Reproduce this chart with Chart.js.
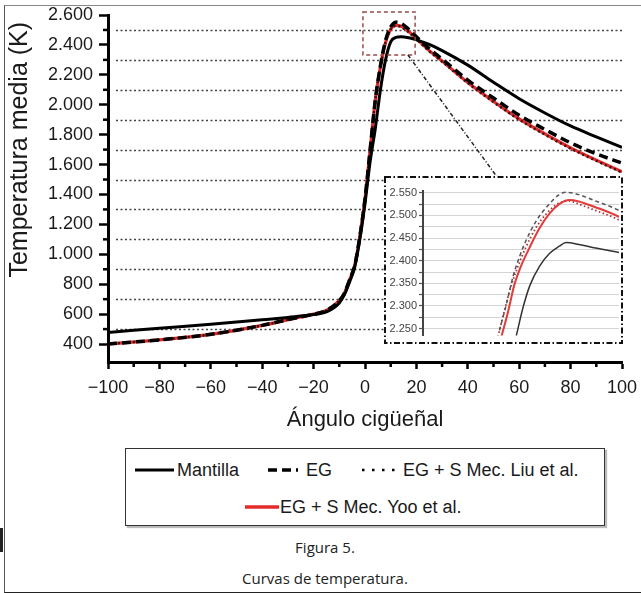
<!DOCTYPE html>
<html>
<head>
<meta charset="utf-8">
<script src="https://cdn.jsdelivr.net/npm/chart.js@4.4.1/dist/chart.umd.min.js"></script>
<style>
  html, body { margin: 0; padding: 0; background: #fff; }
  body { width: 641px; height: 593px; position: relative; overflow: hidden; font-family: "Liberation Sans", Arial, sans-serif; }
  #frame { position: absolute; left: 4px; top: 5px; width: 700px; height: 586px; border-left: 1.5px solid #555; border-top: 1.5px solid #888; border-bottom: 1.5px solid #222; }
  #edge { position: absolute; left: 0; top: 528px; width: 3px; height: 24px; background: #222; }
  #main { position: absolute; left: 0; top: 0; }
  #insetWrap { position: absolute; left: 384px; top: 176px; width: 239px; height: 168px; background: #fff; }
  #legend { position: absolute; left: 125px; top: 448px; width: 478px; height: 76px; border: 1.5px solid #333; box-shadow: 2px 2px 1px #bbb; }
  .item { position: absolute; font-size: 18px; line-height: 20px; color: #1a1a1a; white-space: nowrap; }
  .sample { position: absolute; }
  .cap { position: absolute; left: 0; width: 650px; text-align: center; font-family: "Open Sans", sans-serif; font-size: 15px; color: #222; }
</style>
</head>
<body>
<div id="frame"></div>
<div id="edge"></div>
<canvas id="main" width="641" height="440"></canvas>
<div id="insetWrap"><canvas id="inset" width="239" height="168"></canvas></div>

<div id="legend"></div>
<svg class="sample" style="left:135px;top:465px" width="40" height="10"><line x1="0" y1="5" x2="39" y2="5" stroke="#000" stroke-width="3"/></svg>
<div class="item" style="left:177px;top:460px">Mantilla</div>
<svg class="sample" style="left:268px;top:465px" width="32" height="10"><line x1="0" y1="5" x2="30" y2="5" stroke="#000" stroke-width="3.5" stroke-dasharray="9 5"/></svg>
<div class="item" style="left:306px;top:460px">EG</div>
<svg class="sample" style="left:362px;top:465px" width="40" height="10"><line x1="0" y1="5" x2="39" y2="5" stroke="#000" stroke-width="2.5" stroke-dasharray="2.5 7.5"/></svg>
<div class="item" style="left:403px;top:460px">EG + S Mec. Liu et al.</div>
<svg class="sample" style="left:245px;top:502px" width="34" height="10"><line x1="0" y1="5" x2="34" y2="5" stroke="#e32b2b" stroke-width="3.5"/></svg>
<div class="item" style="left:280px;top:497px">EG + S Mec. Yoo et al.</div>

<div class="cap" style="top:537px">Figura 5.</div>
<div class="cap" style="top:568px">Curvas de temperatura.</div>

<script>
// --- main chart data (crank angle in degrees, mean temperature in K) ---
const angles   = [-100, -80, -60, -40, -30, -20, -15, -10, -8, -6, -4, -2, 0, 2, 4, 6, 8, 10, 12, 14, 17, 20, 25, 30, 40, 50, 60, 70, 80, 90, 100];
const mantilla = [478, 505, 532, 562, 578, 597, 615, 675, 730, 815, 915, 1100, 1340, 1620, 1840, 2100, 2300, 2420, 2450, 2455, 2448, 2434, 2403, 2362, 2265, 2150, 2040, 1945, 1858, 1785, 1715];
const eg       = [400, 428, 465, 525, 563, 600, 625, 690, 740, 830, 925, 1120, 1370, 1700, 2030, 2260, 2430, 2520, 2552, 2545, 2505, 2455, 2375, 2305, 2165, 2045, 1930, 1835, 1745, 1672, 1610];
const liu      = [400, 428, 465, 525, 563, 600, 625, 690, 740, 830, 925, 1120, 1370, 1700, 2030, 2255, 2420, 2505, 2528, 2520, 2485, 2438, 2358, 2288, 2145, 2018, 1900, 1800, 1707, 1625, 1547];
const yoo      = [400, 428, 465, 525, 563, 600, 625, 690, 740, 830, 925, 1120, 1370, 1700, 2030, 2255, 2415, 2505, 2530, 2525, 2490, 2443, 2362, 2292, 2148, 2022, 1905, 1805, 1712, 1630, 1552];

// --- inset (zoom on the peak), x in inset units ---
const insetEgX  = [7.8, 8.5, 9.2, 9.85, 10.5, 11.5, 12.6, 13.9, 14.6, 15.9, 17.6, 19.3, 20];
const insetEgT  = [2246, 2303, 2366, 2409, 2444, 2486, 2518, 2546, 2551, 2546, 2532, 2518, 2511];
const insetYooX = [8.0, 8.7, 9.3, 10.0, 10.9, 11.9, 12.9, 13.9, 14.9, 15.9, 17.6, 19.3, 20];
const insetYooT = [2232, 2289, 2345, 2388, 2430, 2472, 2504, 2525, 2534, 2531, 2518, 2504, 2497];
const insetLiuX = [7.65, 8.3, 9.0, 9.7, 10.5, 11.5, 12.6, 13.7, 14.9, 15.9, 17.6, 19.3, 20];
const insetLiuT = [2232, 2289, 2345, 2388, 2430, 2472, 2504, 2525, 2532, 2525, 2511, 2497, 2490];
const insetManX = [9.5, 10.2, 10.9, 11.9, 12.9, 13.9, 14.6, 15.9, 17.6, 20];
const insetManT = [2232, 2296, 2345, 2388, 2416, 2432, 2440, 2436, 2428, 2418];

// zoom box around the peak and the leader line to the inset (data units)
const zoomBox = { x0: -0.8, x1: 19.5, y0: 2333, y1: 2620 };
const leader  = { x0: 16.7, y0: 2333, x1: 51.4, y1: 1517 };

const FONT = "'Liberation Sans', Arial, sans-serif";
Chart.defaults.font.family = FONT;

const pts = (xs, ys) => xs.map((x, i) => ({ x: x, y: ys[i] }));
const fmt = v => v >= 1000 ? Math.floor(v / 1000) + '.' + String(v % 1000).padStart(3, '0') : String(v);

// dotted grid between major ticks, short minor ticks, zoom box + leader
const extras = {
    id: 'extras',
    beforeDatasetsDraw(chart) {
        const { ctx, chartArea: a, scales: { y } } = chart;
        const t = y.ticks.map(k => k.value);
        ctx.save();
        ctx.strokeStyle = '#444';
        ctx.lineWidth = 1.5;
        ctx.setLineDash([2, 2.5]);
        for (let i = 0; i < t.length - 1; i++) {
            const py = Math.round(y.getPixelForValue((t[i] + t[i + 1]) / 2)) + 0.5;
            ctx.beginPath();
            ctx.moveTo(a.left + 8, py);
            ctx.lineTo(a.right, py);
            ctx.stroke();
        }
        ctx.restore();
    },
    afterDatasetsDraw(chart) {
        const { ctx, scales: { x, y } } = chart;
        ctx.save();
        // box
        ctx.strokeStyle = '#9a4a4a';
        ctx.lineWidth = 1.5;
        ctx.setLineDash([4, 3]);
        const bx = x.getPixelForValue(zoomBox.x0), by = y.getPixelForValue(zoomBox.y1);
        ctx.strokeRect(bx, by, x.getPixelForValue(zoomBox.x1) - bx, y.getPixelForValue(zoomBox.y0) - by);
        // leader
        ctx.strokeStyle = '#222';
        ctx.setLineDash([4, 2, 1, 2]);
        ctx.beginPath();
        ctx.moveTo(x.getPixelForValue(leader.x0), y.getPixelForValue(leader.y0));
        ctx.lineTo(x.getPixelForValue(leader.x1), y.getPixelForValue(leader.y1));
        ctx.stroke();
        ctx.restore();
    },
    afterDraw(chart) {
        const { ctx, chartArea: a, scales: { x, y } } = chart;
        ctx.save();
        ctx.strokeStyle = '#000';
        ctx.lineWidth = 2.5;
        const xt = x.ticks.map(k => k.value);
        for (let i = 0; i < xt.length - 1; i++) {
            const px = x.getPixelForValue((xt[i] + xt[i + 1]) / 2);
            ctx.beginPath();
            ctx.moveTo(px, a.bottom);
            ctx.lineTo(px, a.bottom + 5);
            ctx.stroke();
        }
        const yt = y.ticks.map(k => k.value);
        for (let i = 0; i < yt.length - 1; i++) {
            const py = y.getPixelForValue((yt[i] + yt[i + 1]) / 2);
            ctx.beginPath();
            ctx.moveTo(a.left, py);
            ctx.lineTo(a.left - 5, py);
            ctx.stroke();
        }
        ctx.restore();
    }
};

new Chart(document.getElementById('main'), {
    type: 'line',
    data: {
        datasets: [
            { label: 'Mantilla', data: pts(angles, mantilla), borderColor: '#000', borderWidth: 3 },
            { label: 'EG', data: pts(angles, eg), borderColor: '#000', borderWidth: 3.5, borderDash: [9, 5] },
            { label: 'EG + S Mec. Liu et al.', data: pts(angles, liu), borderColor: '#3a1010', borderWidth: 2.5, borderDash: [2, 3] },
            { label: 'EG + S Mec. Yoo et al.', data: pts(angles, yoo), borderColor: '#e32b2b', borderWidth: 3.2 }
        ]
    },
    options: {
        responsive: false,
        animation: false,
        layout: { padding: { top: 15, right: 19, left: 0, bottom: 0 } },
        elements: {
            point: { radius: 0 },
            line: { cubicInterpolationMode: 'monotone', fill: false }
        },
        plugins: { legend: { display: false }, tooltip: { enabled: false } },
        scales: {
            x: {
                type: 'linear', min: -100, max: 100,
                afterFit: s => { s.height = 78; s.paddingLeft = 0; s.paddingRight = 0; },
                border: { color: '#000', width: 3 },
                grid: { drawOnChartArea: false, tickLength: 7, tickWidth: 2.5, tickColor: '#000' },
                ticks: {
                    stepSize: 20, autoSkip: false, maxRotation: 0, padding: 8,
                    color: '#1a1a1a', font: { size: 18 },
                    callback: v => v < 0 ? '\u2212' + Math.abs(v) : String(v)
                },
                title: {
                    display: true, text: 'Ángulo cigüeñal', color: '#1a1a1a',
                    font: { size: 22 }, padding: { top: 0, bottom: 7 }
                }
            },
            y: {
                min: 280, max: 2600,
                afterFit: s => { s.width = 108; s.paddingTop = 0; s.paddingBottom = 0; },
                border: { color: '#000', width: 3 },
                grid: { drawOnChartArea: false, tickLength: 9, tickWidth: 2.5, tickColor: '#000' },
                ticks: {
                    stepSize: 200, includeBounds: false, autoSkip: false, padding: 6,
                    color: '#1a1a1a', font: { size: 18 },
                    callback: v => fmt(v)
                },
                title: {
                    // trailing space keeps the end of the title a little below the top
                    display: true, text: 'Temperatura media (K) ', color: '#1a1a1a', align: 'end',
                    font: { size: 25 }, padding: { top: 5, bottom: 0 }
                }
            }
        }
    },
    plugins: [extras]
});

// dash-dot frame round the inset
const insetBorder = {
    id: 'insetBorder',
    afterDraw(chart) {
        const { ctx, width, height } = chart;
        ctx.save();
        ctx.strokeStyle = '#111';
        ctx.lineWidth = 2;
        ctx.setLineDash([6, 2.5, 1.5, 2.5]);
        ctx.strokeRect(1, 1, width - 2, height - 2);
        ctx.restore();
    }
};

new Chart(document.getElementById('inset'), {
    type: 'line',
    data: {
        datasets: [
            { data: pts(insetEgX, insetEgT), borderColor: '#555', borderWidth: 1.5, borderDash: [4, 3] },
            { data: pts(insetYooX, insetYooT), borderColor: '#e33a3a', borderWidth: 2 },
            { data: pts(insetLiuX, insetLiuT), borderColor: '#a33', borderWidth: 1.8, borderDash: [1.5, 2.5] },
            { data: pts(insetManX, insetManT), borderColor: '#333', borderWidth: 1.5 }
        ]
    },
    options: {
        responsive: false,
        animation: false,
        layout: { padding: { top: 15, right: 4, bottom: 2, left: 0 } },
        elements: {
            point: { radius: 0 },
            line: { cubicInterpolationMode: 'monotone', fill: false }
        },
        plugins: { legend: { display: false }, tooltip: { enabled: false } },
        scales: {
            x: { type: 'linear', min: 0, max: 20, display: false },
            y: {
                min: 2235, max: 2554,
                afterFit: s => { s.width = 39; },
                border: { color: '#444', width: 2 },
                grid: { color: '#d4d4d4', lineWidth: 1, tickLength: 4, tickColor: '#555', tickWidth: 1.2 },
                ticks: {
                    stepSize: 25, includeBounds: false, autoSkip: false, padding: 2,
                    color: '#444', font: { size: 11 },
                    callback: v => v % 50 === 0 ? fmt(v) : ''
                }
            }
        }
    },
    plugins: [insetBorder]
});
</script>
</body>
</html>
